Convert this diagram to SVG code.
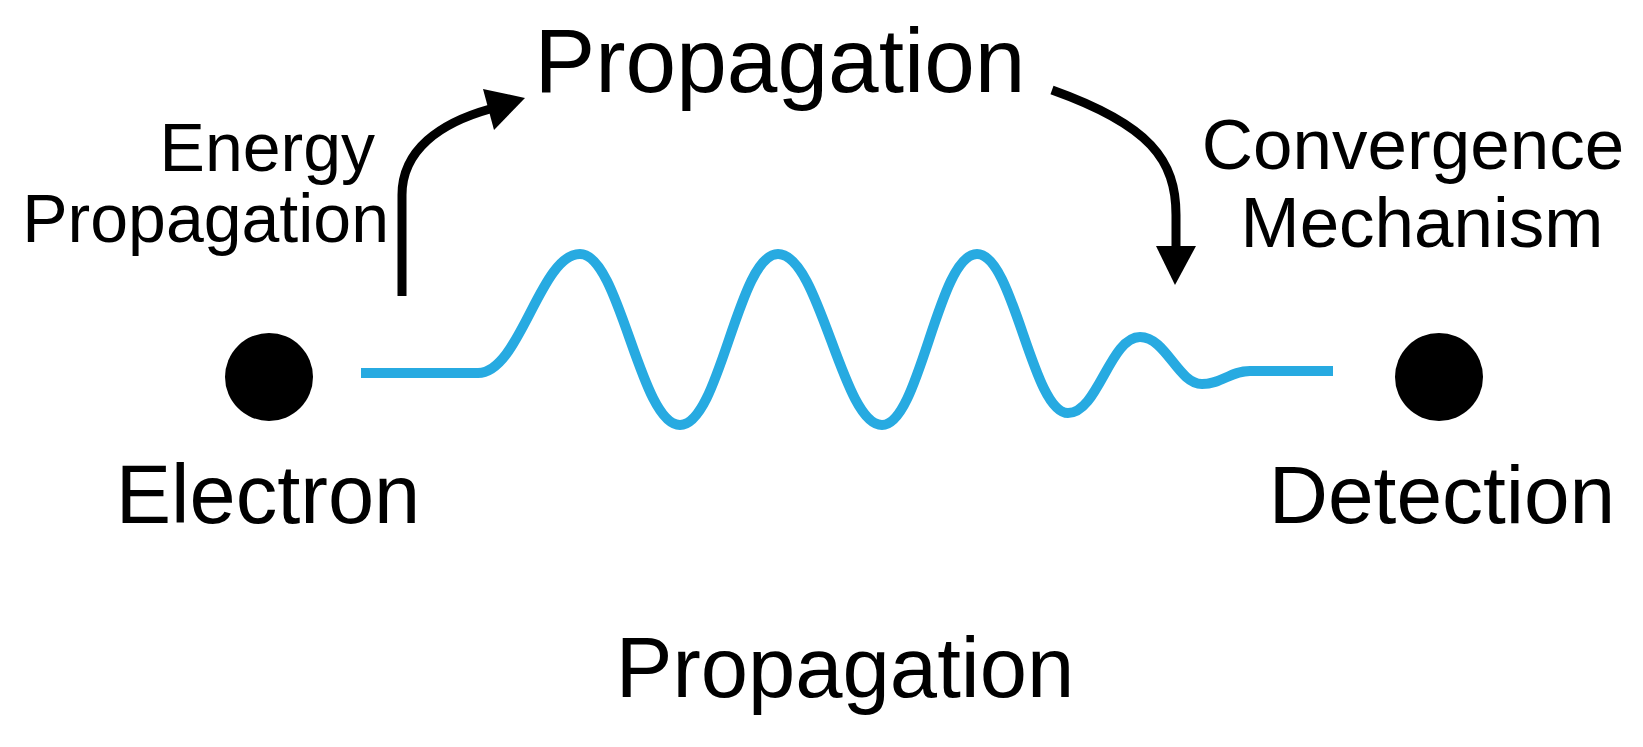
<svg xmlns="http://www.w3.org/2000/svg" width="1643" height="747" viewBox="0 0 1643 747">
  <style>
    .lbl { font-family: "Liberation Sans", Arial, Helvetica, sans-serif; fill: #000; }
    .dot { fill: #000; }
    .arrow { fill: none; stroke: #000; stroke-width: 9; }
    .head { fill: #000; }
    .wave { fill: none; stroke: #27AAE1; stroke-width: 10; stroke-linejoin: round; }
  </style>
  <rect width="1643" height="747" fill="#fff"/>

  <g id="connectors">
    <path class="wave" d="M361,373 L478,373 C520,373 540,254 580,254 C620,254 640,425 680,425 C720,425 738,254 778,254 C820,254 842,425 882,425 C920,425 938,254 977,254 C1014,254 1032,413 1068,413 C1098,413 1110,337 1140,337 C1166,337 1178,384 1202,384 C1222,384 1230,371 1250,371 L1333,371"/>
    <path class="arrow" d="M402,296 L402,195 C402,150 440,123 490,109"/>
    <polygon class="head" points="525,98 483,89 494,130"/>
    <path class="arrow" d="M1052,90 C1150,125 1176,160 1176,215 L1176,250"/>
    <polygon class="head" points="1156,246 1196,246 1175,285"/>
  </g>

  <g id="electron">
    <circle class="dot" cx="269" cy="377" r="44"/>
    <text class="lbl" x="268" y="523" font-size="83" text-anchor="middle">Electron</text>
  </g>

  <g id="detection">
    <circle class="dot" cx="1439" cy="377" r="44"/>
    <text class="lbl" x="1442" y="523" font-size="82" text-anchor="middle">Detection</text>
  </g>

  <g id="propagation-top">
    <text class="lbl" x="780" y="92" font-size="91" text-anchor="middle">Propagation</text>
  </g>

  <g id="energy-propagation">
    <text class="lbl" x="375" y="171" font-size="68" text-anchor="end">Energy</text>
    <text class="lbl" x="389" y="242" font-size="68" text-anchor="end">Propagation</text>
  </g>

  <g id="convergence-mechanism">
    <text class="lbl" x="1413" y="169" font-size="71" text-anchor="middle">Convergence</text>
    <text class="lbl" x="1422" y="247" font-size="71" text-anchor="middle">Mechanism</text>
  </g>

  <g id="propagation-bottom">
    <text class="lbl" x="845" y="697" font-size="85" text-anchor="middle">Propagation</text>
  </g>
</svg>
